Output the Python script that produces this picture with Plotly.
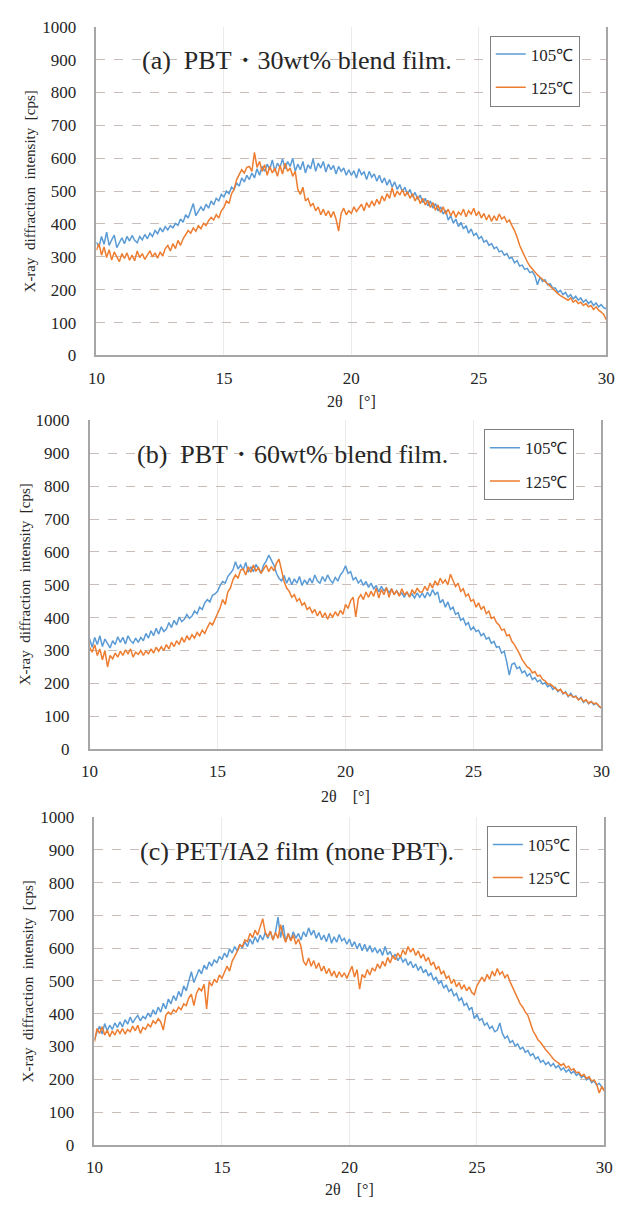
import numpy as np
import plotly.graph_objects as go

# 2-theta axis: 10.0 .. 30.0 step 0.1
two_theta = [round(10 + 0.1 * i, 1) for i in range(201)]

# ---------------- Panel (a) PBT 30wt% blend film ----------------
a_105 = [
    345, 330, 362, 338, 375, 335, 352, 366, 328, 345,
    358, 340, 362, 348, 365, 350, 343, 362, 352, 368,
    355, 372, 362, 380, 370, 388, 376, 392, 382, 395,
    388, 402, 396, 415, 405, 428, 418, 440, 462, 425,
    438, 452, 440, 460, 448, 470, 458, 478, 470, 490,
    482, 500, 492, 512, 505, 525, 515, 540, 528, 548,
    535, 555, 540, 568, 548, 575, 560, 582, 565, 595,
    560, 585, 572, 598, 568, 590, 575, 600, 560, 582,
    565, 590, 555, 580, 568, 598, 560, 585, 570, 590,
    558, 582, 565, 578, 552, 575, 560, 570, 548, 565,
    548, 562, 540, 568, 550, 558, 535, 560, 542, 552,
    530, 548, 525, 540, 518, 535, 512, 528, 505, 520,
    498, 512, 490, 505, 482, 496, 475, 488, 465, 478,
    455, 470, 448, 462, 440, 452, 430, 442, 412, 425,
    402, 415, 392, 405, 385, 395, 372, 385, 365, 372,
    355, 362, 345, 350, 335, 340, 325, 330, 315, 318,
    305, 310, 295, 298, 282, 288, 272, 275, 262, 265,
    252, 255, 242, 215, 238, 225, 230, 215, 218, 205,
    205, 192, 198, 185, 192, 178, 185, 172, 180, 168,
    175, 162, 170, 158, 165, 152, 160, 148, 155, 145,
    142,
]
a_125 = [
    320, 340, 305, 330, 298, 322, 290, 315, 300, 285,
    310, 295, 312, 290, 305, 288, 318, 298, 310, 292,
    305, 318, 300, 312, 296, 315, 302, 325, 335, 318,
    340, 325, 350, 335, 355, 368, 380, 372, 388, 378,
    395, 385, 402, 395, 410, 420, 412, 428, 418, 440,
    450, 470, 462, 492, 505, 535, 548, 565, 555, 572,
    575, 560, 618, 572, 590, 560, 580, 548, 575, 555,
    570, 545, 578, 552, 585, 560, 570, 545, 560, 505,
    490, 512, 470, 478, 455, 462, 440, 452, 428, 445,
    425, 440, 420, 438, 415, 378, 432, 448, 428, 440,
    432, 452, 438, 448, 460, 440, 465, 450, 470, 455,
    475, 460, 485, 470, 492, 478, 510, 482, 500, 488,
    505, 485, 498, 478, 492, 470, 485, 462, 478, 458,
    472, 450, 465, 442, 458, 435, 452, 430, 445, 425,
    440, 420, 436, 428, 445, 422, 440, 430, 448, 425,
    438, 418, 432, 412, 428, 408, 425, 410, 430, 415,
    422, 405, 412, 395, 380, 360, 335, 318, 300, 285,
    272, 262, 255, 245, 238, 230, 225, 218, 210, 202,
    195, 188, 182, 178, 172, 168, 175, 162, 168, 158,
    162, 152, 158, 148, 152, 140, 148, 138, 132, 125,
    108,
]

# ---------------- Panel (b) PBT 60wt% blend film ----------------
b_105 = [
    335, 310, 340, 318, 345, 312, 335, 320, 308, 330,
    318, 342, 325, 340, 320, 345, 330, 322, 338, 325,
    340, 330, 352, 338, 360, 345, 368, 350, 372, 358,
    365, 385, 370, 392, 378, 402, 388, 395, 410, 398,
    405, 420, 412, 432, 425, 445, 455, 448, 468, 472,
    480, 498, 510, 505, 525, 535, 545, 570, 548, 560,
    545, 568, 538, 555, 540, 562, 548, 535, 560, 572,
    590, 575, 560, 535, 520, 512, 528, 505, 522, 500,
    518, 505, 525, 498, 515, 502, 520, 505, 530, 512,
    505, 525, 510, 530, 515, 505, 522, 512, 530, 540,
    558, 535, 540, 515, 522, 505, 515, 498, 510, 492,
    505, 488, 498, 478, 495, 482, 490, 475, 488, 470,
    482, 468, 475, 462, 478, 465, 472, 460, 475, 462,
    475, 460, 478, 465, 485, 470, 478, 445, 455, 432,
    448, 425, 432, 410, 415, 392, 398, 378, 385, 362,
    372, 358, 362, 345, 352, 335, 340, 322, 328, 310,
    312, 292, 298, 265, 225, 258, 262, 245, 250, 232,
    238, 222, 230, 212, 218, 205, 210, 198, 202, 190,
    195, 182, 188, 175, 182, 168, 175, 160, 170, 158,
    162, 150, 158, 142, 150, 138, 145, 135, 140, 130,
    125,
]
b_125 = [
    310, 295, 318, 285, 305, 272, 300, 250, 285, 275,
    292, 280, 298, 285, 302, 290, 305, 280, 295, 288,
    300, 285, 298, 290, 305, 292, 310, 298, 312, 300,
    318, 305, 325, 312, 330, 318, 340, 325, 345, 332,
    348, 338, 355, 345, 362, 352, 370, 385, 378, 395,
    410, 430, 455, 440, 478, 490, 515, 530, 520, 545,
    548, 530, 555, 538, 560, 542, 552, 535, 548, 560,
    540, 555, 542, 565, 578, 540, 510, 490, 480, 462,
    470, 450, 458, 438, 445, 425, 432, 415, 425, 405,
    420, 400, 415, 395, 412, 402, 418, 405, 422, 410,
    440, 428, 452, 462, 402, 458, 470, 455, 478, 462,
    480, 465, 490, 460, 485, 470, 492, 462, 488, 470,
    482, 465, 488, 470, 478, 462, 485, 472, 490, 478,
    478, 495, 482, 505, 490, 512, 498, 520, 505, 515,
    500, 532, 512, 495, 505, 480, 488, 465, 472, 450,
    455, 432, 445, 425, 435, 412, 420, 398, 402, 385,
    378, 362, 365, 345, 348, 328, 318, 305, 290, 272,
    262, 250, 245, 232, 236, 222, 225, 212, 208, 198,
    198, 190, 185, 178, 182, 170, 172, 162, 165, 158,
    160, 150, 155, 145, 150, 140, 145, 138, 140, 132,
    125,
]

# ---------------- Panel (c) PET/IA2 film (none PBT) ----------------
c_105 = [
    320, 345, 362, 338, 370, 348, 365, 352, 372, 358,
    375, 360, 382, 368, 390, 372, 385, 395, 378, 392,
    385, 402, 390, 412, 398, 420, 405, 432, 415, 445,
    430, 455, 440, 468, 452, 485, 470, 500, 528, 495,
    515, 535, 522, 548, 535, 558, 545, 565, 555, 575,
    565, 585, 572, 598, 585, 605, 592, 612, 600, 620,
    605, 628, 612, 635, 618, 640, 625, 648, 630, 652,
    625, 648, 695, 632, 670, 620, 645, 625, 650, 630,
    645, 625, 650, 635, 662, 640, 655, 630, 648, 625,
    640, 620, 645, 615, 635, 618, 642, 622, 630, 612,
    628, 605, 620, 598, 615, 592, 612, 590, 608, 588,
    602, 585, 598, 578, 605, 580, 590, 570, 582, 562,
    575, 558, 568, 548, 560, 540, 552, 532, 545, 525,
    535, 515, 525, 502, 512, 492, 500, 478, 488, 468,
    475, 455, 462, 440, 448, 425, 432, 412, 420, 385,
    398, 380, 385, 365, 372, 355, 362, 345, 350, 372,
    340, 325, 332, 312, 318, 302, 308, 292, 298, 282,
    288, 272, 278, 262, 268, 252, 258, 245, 252, 240,
    248, 235, 242, 228, 235, 222, 230, 218, 225, 212,
    218, 205, 212, 198, 205, 190, 195, 182, 188, 175,
    165,
]
c_125 = [
    315, 355, 340, 360, 335, 350, 330, 348, 335, 352,
    340, 355, 338, 352, 345, 362, 348, 365, 340, 358,
    352, 368, 360, 378, 370, 385, 375, 350, 395, 405,
    398, 412, 405, 420, 412, 430, 425, 448, 460, 425,
    462, 478, 470, 490, 415, 498, 485, 505, 495, 518,
    508, 525, 545, 530, 560, 575, 590, 610, 605, 625,
    620, 645, 632, 655, 640, 665, 690, 648, 635, 652,
    625, 648, 630, 672, 640, 618, 645, 622, 640, 612,
    628, 605, 560, 548, 570, 545, 562, 538, 555, 530,
    545, 522, 538, 515, 530, 510, 528, 512, 525, 508,
    528, 545, 512, 535, 475, 520, 510, 535, 518, 540,
    530, 552, 538, 560, 545, 572, 555, 578, 565, 585,
    572, 595, 580, 605, 588, 600, 578, 592, 570, 582,
    560, 572, 548, 558, 535, 545, 522, 530, 508, 515,
    492, 505, 482, 495, 475, 488, 470, 482, 465, 458,
    485, 500, 512, 498, 520, 505, 530, 515, 538, 520,
    528, 510, 520, 498, 482, 465, 448, 430, 420, 405,
    395, 372, 348, 335, 320, 312, 300, 290, 282, 270,
    262, 255, 250, 242, 248, 235, 240, 228, 232, 220,
    222, 210, 215, 202, 208, 195, 198, 185, 158, 178,
    165,
]

series_names = ["105℃", "125℃"]
colors = ["#5b9bd5", "#ed7d31"]
panel_titles = [
    "(a)  PBT・30wt% blend film.",
    "(b)  PBT・60wt% blend film.",
    "(c) PET/IA2 film (none PBT).",
]
x_tick_vals = [10, 15, 20, 25, 30]
y_tick_vals = [0, 100, 200, 300, 400, 500, 600, 700, 800, 900, 1000]
x_title = "2θ\u3000[°]"
y_title = "X-ray  diffraction  intensity  [cps]"

W, H = 625, 1207
# plot boxes in pixels: left, right, top, bottom
boxes = [(90, 615, 18, 352), (83, 610, 418, 752), (88, 613, 821, 1154)]
legend_pos = [(495, 27), (489, 427), (492, 830)]
title_pos = [(297, 52), (292, 453), (297, 856)]
xtitle_y = [399, 800, 1199]
ytitle_x = [22, 16, 20]

data = [(a_105, a_125), (b_105, b_125), (c_105, c_125)]
SERIF = "Liberation Serif"

fig = go.Figure()
layout = dict(
    width=W, height=H, margin=dict(l=0, r=0, t=0, b=0),
    paper_bgcolor="white", plot_bgcolor="white",
    showlegend=True, annotations=[],
    font=dict(family=SERIF, color="#262626"),
)

for k in range(3):
    sfx = "" if k == 0 else str(k + 1)
    xa, ya = "x" + sfx, "y" + sfx
    leg = "legend" + sfx
    for s in range(2):
        fig.add_trace(go.Scatter(
            x=two_theta, y=data[k][s], mode="lines", name=series_names[s],
            line=dict(color=colors[s], width=1.5),
            xaxis=xa, yaxis=ya, legend=leg, legendgroup=f"g{k}{s}",
        ))
    l, r, t, b = boxes[k]
    layout["xaxis" + sfx] = dict(
        domain=[l / W, r / W], anchor=ya, range=[10, 30],
        tickvals=x_tick_vals, showgrid=True, gridcolor="#ebebeb", gridwidth=1,
        showline=True, linecolor="#a6a6a6", linewidth=1.5, zeroline=False,
        ticks="", ticklabelstandoff=6,
        tickfont=dict(family=SERIF, size=17, color="#262626"),
    )
    layout["yaxis" + sfx] = dict(
        domain=[1 - b / H, 1 - t / H], anchor=xa, range=[0, 1000],
        tickvals=y_tick_vals, showgrid=True, gridcolor="#c8bdb8", griddash="dash",
        gridwidth=1, showline=True, mirror=True, linecolor="#a6a6a6", linewidth=1.5,
        zeroline=False, ticks="", ticklabelstandoff=15,
        tickfont=dict(family=SERIF, size=17, color="#262626"),
    )
    lx, ly = legend_pos[k]
    layout[leg] = dict(
        x=lx / W, y=1 - ly / H, xanchor="left", yanchor="top",
        bgcolor="white", bordercolor="#7f7f7f", borderwidth=1,
        font=dict(family=SERIF, size=17, color="#262626"),
        itemwidth=30, tracegroupgap=8, entrywidth=72, entrywidthmode="pixels",
    )
    tx, ty = title_pos[k]
    layout["annotations"].append(dict(
        text=panel_titles[k], x=tx / W, y=1 - ty / H, xref="paper", yref="paper",
        showarrow=False, font=dict(family=SERIF, size=26, color="#262626"),
        xanchor="center", yanchor="middle",
    ))
    layout["annotations"].append(dict(
        text=x_title, x=(l + r) / 2 / W, y=1 - xtitle_y[k] / H, xref="paper", yref="paper",
        showarrow=False, font=dict(family=SERIF, size=16, color="#262626"),
        xanchor="center", yanchor="middle",
    ))
    layout["annotations"].append(dict(
        text=y_title, x=ytitle_x[k] / W, y=1 - (t + b) / 2 / H, xref="paper", yref="paper",
        showarrow=False, textangle=-90, font=dict(family=SERIF, size=15, color="#262626"),
        xanchor="center", yanchor="middle",
    ))

fig.update_layout(**layout)
fig.write_html("out.html")
